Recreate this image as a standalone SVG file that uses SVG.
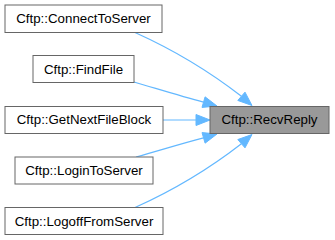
<svg xmlns="http://www.w3.org/2000/svg" width="335" height="240" viewBox="0 0 335 240">
  <style>
    .node rect { fill: #ffffff; stroke: #666666; stroke-width: 1; }
    .node.root rect { fill: #999999; }
    .node text { font-family: "Liberation Sans", Arial, Helvetica, sans-serif; font-size: 13.3px; fill: #000000; text-anchor: middle; }
    .edge path { fill: none; stroke: #63b8ff; stroke-width: 1.2; }
    .edge polygon { fill: #63b8ff; stroke: #63b8ff; stroke-width: 1; }
  </style>
  <rect width="335" height="240" fill="#ffffff"/>

  <!-- callers of Cftp::RecvReply -->
  <g id="edges">
    <g class="edge" id="edge-connect">
      <path d="M135,32.5 C165,46 205,68 241.4,96.3"/>
      <polygon points="252,105.5 237.8,100.45 245,92.15"/>
    </g>
    <g class="edge" id="edge-findfile">
      <path d="M134,82 C158,89 180,96 203.5,102.1"/>
      <polygon points="217,106 202,107.4 205.1,96.85"/>
    </g>
    <g class="edge" id="edge-getnext">
      <path d="M163,120 L196,120"/>
      <polygon points="210,120 196,114.5 196,125.5"/>
    </g>
    <g class="edge" id="edge-login">
      <path d="M136,157 C158,151 180,144 203.5,137.9"/>
      <polygon points="217,134 202,132.6 205.1,143.15"/>
    </g>
    <g class="edge" id="edge-logoff">
      <path d="M135,207.5 C165,194 205,172 241.4,143.7"/>
      <polygon points="252,134.5 237.8,139.55 245,147.85"/>
    </g>
  </g>

  <g class="node" id="node-connect">
    <rect x="5" y="5" width="157" height="27.5"/>
    <text x="83.5" y="23.3">Cftp::ConnectToServer</text>
  </g>
  <g class="node" id="node-findfile">
    <rect x="33" y="55.5" width="101" height="27"/>
    <text x="83.5" y="73.8">Cftp::FindFile</text>
  </g>
  <g class="node" id="node-getnext">
    <rect x="5" y="106.5" width="158" height="27"/>
    <text x="84" y="124.3">Cftp::GetNextFileBlock</text>
  </g>
  <g class="node" id="node-login">
    <rect x="15" y="157" width="138" height="27"/>
    <text x="84" y="175">Cftp::LoginToServer</text>
  </g>
  <g class="node" id="node-logoff">
    <rect x="5" y="207.5" width="158" height="27"/>
    <text x="84" y="225.5">Cftp::LogoffFromServer</text>
  </g>
  <g class="node root" id="node-recvreply">
    <rect x="210" y="106.5" width="119" height="27"/>
    <text x="269.5" y="124.3">Cftp::RecvReply</text>
  </g>
</svg>
